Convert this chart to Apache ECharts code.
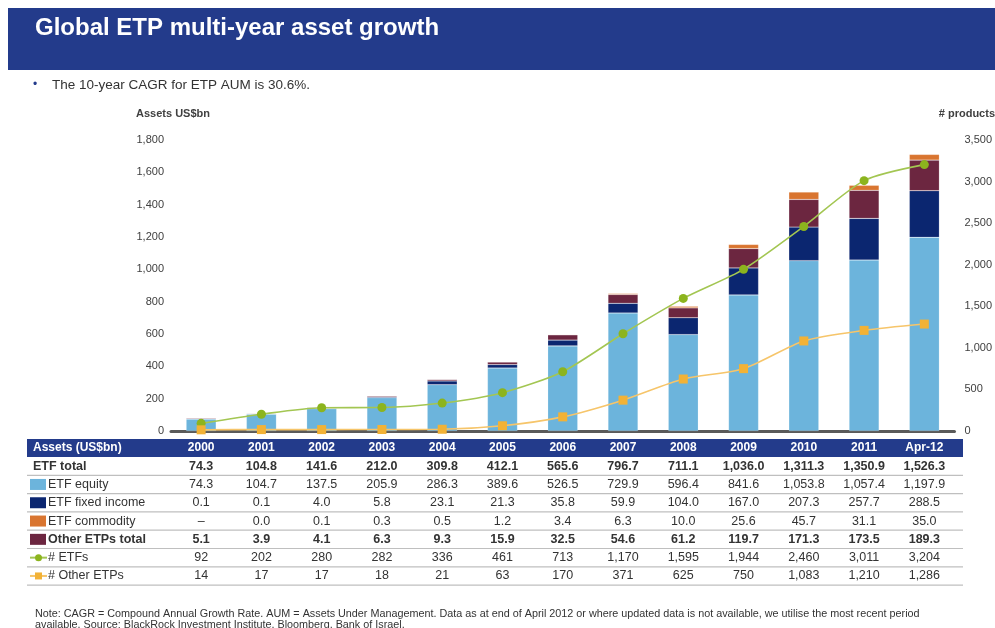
<!DOCTYPE html>
<html>
<head>
<meta charset="utf-8">
<title>Global ETP multi-year asset growth</title>
<script src="https://cdn.jsdelivr.net/npm/echarts@6/dist/echarts.min.js"></script>
<style>
  html, body { margin: 0; padding: 0; background: #fff; }
  #main { width: 995px; height: 628px; }
</style>
</head>
<body>
<div id="main"></div>
<script>
  // data (US$bn, product counts)
  const years = ['2000', '2001', '2002', '2003', '2004', '2005', '2006', '2007', '2008', '2009', '2010', '2011', 'Apr-12']
  const etfTotal = [74.3, 104.8, 141.6, 212.0, 309.8, 412.1, 565.6, 796.7, 711.1, 1036.0, 1311.3, 1350.9, 1526.3]
  const etfEquity = [74.3, 104.7, 137.5, 205.9, 286.3, 389.6, 526.5, 729.9, 596.4, 841.6, 1053.8, 1057.4, 1197.9]
  const etfFixedIncome = [0.1, 0.1, 4.0, 5.8, 23.1, 21.3, 35.8, 59.9, 104.0, 167.0, 207.3, 257.7, 288.5]
  const etfCommodity = [null, 0.0, 0.1, 0.3, 0.5, 1.2, 3.4, 6.3, 10.0, 25.6, 45.7, 31.1, 35.0]
  const otherEtpsTotal = [5.1, 3.9, 4.1, 6.3, 9.3, 15.9, 32.5, 54.6, 61.2, 119.7, 171.3, 173.5, 189.3]
  const numEtfs = [92, 202, 280, 282, 336, 461, 713, 1170, 1595, 1944, 2460, 3011, 3204]
  const numOtherEtps = [14, 17, 17, 18, 21, 63, 170, 371, 625, 750, 1083, 1210, 1286]

  const FONT = '"Liberation Sans", Arial, sans-serif'
  const NAVY = '#233b8b'
  const C_EQUITY = '#6cb4dc'
  const C_FIXED = '#0b2670'
  const C_COMMODITY = '#d97530'
  const C_OTHER = '#6c2640'
  const C_ETFS = '#8cb41e'
  const C_OTHER_ETPS = '#f2b236'

  const fmt = (v, d) => v === null ? '\u2013' : v.toLocaleString('en-US', { minimumFractionDigits: d, maximumFractionDigits: d })

  const chart = echarts.init(document.getElementById('main'), null, { renderer: 'canvas' })

  const barSeries = (name, data, color) => ({
    name: name,
    type: 'bar',
    stack: 'aum',
    barWidth: 30,
    data: data,
    itemStyle: { color: color, borderColor: 'rgba(255,255,255,0.35)', borderWidth: 0.5 }
  })

  const lineSeries = (name, data, color, lineColor, symbol, size) => ({
    name: name,
    type: 'line',
    yAxisIndex: 1,
    data: data,
    smooth: 0.25,
    symbol: symbol,
    symbolSize: size,
    z: 5,
    itemStyle: { color: color },
    lineStyle: { color: lineColor, width: 1.6 }
  })

  const axisLabel = margin => ({
    color: '#404040',
    fontSize: 11,
    fontFamily: FONT,
    margin: margin,
    formatter: v => v.toLocaleString('en-US')
  })

  chart.setOption({
    animation: false,
    grid: { left: 171, right: 40, top: 140, bottom: 197 },
    xAxis: {
      type: 'category',
      data: years,
      axisLine: { lineStyle: { color: '#5a5a5a', width: 3 } },
      axisTick: { show: false },
      axisLabel: { show: false }
    },
    yAxis: [
      {
        type: 'value', min: 0, max: 1800, interval: 200,
        axisLine: { show: false }, axisTick: { show: false }, splitLine: { show: false },
        axisLabel: axisLabel(7)
      },
      {
        type: 'value', min: 0, max: 3500, interval: 500,
        axisLine: { show: false }, axisTick: { show: false }, splitLine: { show: false },
        axisLabel: axisLabel(10)
      }
    ],
    series: [
      barSeries('ETF equity', etfEquity, C_EQUITY),
      barSeries('ETF fixed income', etfFixedIncome, C_FIXED),
      barSeries('Other ETPs total', otherEtpsTotal, C_OTHER),
      barSeries('ETF commodity', etfCommodity, C_COMMODITY),
      lineSeries('# ETFs', numEtfs, C_ETFS, '#a3c652', 'circle', 9),
      lineSeries('# Other ETPs', numOtherEtps, C_OTHER_ETPS, '#f6c56a', 'rect', 9)
    ]
  })

  // table under the chart, columns lined up with the categories
  const rows = [
    { label: 'ETF total', values: etfTotal, d: 1, bold: true },
    { label: 'ETF equity', values: etfEquity, d: 1, icon: 'box', color: C_EQUITY },
    { label: 'ETF fixed income', values: etfFixedIncome, d: 1, icon: 'box', color: C_FIXED },
    { label: 'ETF commodity', values: etfCommodity, d: 1, icon: 'box', color: C_COMMODITY },
    { label: 'Other ETPs total', values: otherEtpsTotal, d: 1, bold: true, icon: 'box', color: C_OTHER },
    { label: '# ETFs', values: numEtfs, d: 0, icon: 'line', color: C_ETFS, line: '#a3c652', sym: 'circle' },
    { label: '# Other ETPs', values: numOtherEtps, d: 0, icon: 'line', color: C_OTHER_ETPS, line: '#f6c56a', sym: 'rect' }
  ]

  const colX = years.map((y, i) => chart.convertToPixel({ xAxisIndex: 0 }, i))
  const tableLeft = 27, tableRight = 963
  const headTop = 439, headH = 18, rowTop = 457, rowH = 18.3

  const txt = (x, y, text, opt) => ({
    type: 'text', x: x, y: y, silent: true,
    style: Object.assign({
      text: text, fill: '#333', textAlign: 'left', textVerticalAlign: 'middle',
      font: '12px ' + FONT
    }, opt || {})
  })

  const g = []
  // title band
  g.push({ type: 'rect', shape: { x: 8, y: 8, width: 987, height: 62 }, style: { fill: NAVY } })
  g.push(txt(35, 28, 'Global ETP multi-year asset growth', { fill: '#fff', font: 'bold 24px ' + FONT }))
  g.push(txt(33, 85, '\u2022', { fill: NAVY, font: '12px ' + FONT }))
  g.push(txt(52, 85, 'The 10-year CAGR for ETP AUM is 30.6%.', { fill: '#333', font: '13.5px ' + FONT }))
  g.push(txt(136, 114, 'Assets US$bn', { fill: '#404040', font: 'bold 11px ' + FONT }))
  g.push(txt(995, 114, '# products', { fill: '#404040', font: 'bold 11px ' + FONT, textAlign: 'right' }))

  // header
  g.push({ type: 'rect', shape: { x: tableLeft, y: headTop, width: tableRight - tableLeft, height: headH }, style: { fill: NAVY } })
  g.push(txt(33, headTop + headH / 2, 'Assets (US$bn)', { fill: '#fff', font: 'bold 12px ' + FONT }))
  years.forEach((y, i) => {
    g.push(txt(colX[i], headTop + headH / 2, y, { fill: '#fff', font: 'bold 12px ' + FONT, textAlign: 'center' }))
  })

  rows.forEach((r, k) => {
    const cy = rowTop + rowH * k + rowH / 2
    const font = (r.bold ? 'bold ' : '') + '12.5px ' + FONT
    let lx = 33
    if (r.icon === 'box') {
      g.push({ type: 'rect', shape: { x: 30, y: cy - 5.5, width: 16, height: 11 }, style: { fill: r.color } })
      lx = 48
    } else if (r.icon === 'line') {
      g.push({ type: 'line', shape: { x1: 30, y1: cy, x2: 47, y2: cy }, style: { stroke: r.line, lineWidth: 2 } })
      if (r.sym === 'circle') {
        g.push({ type: 'circle', shape: { cx: 38.5, cy: cy, r: 3.5 }, style: { fill: r.color } })
      } else {
        g.push({ type: 'rect', shape: { x: 35, y: cy - 3.5, width: 7, height: 7 }, style: { fill: r.color } })
      }
      lx = 48
    }
    g.push(txt(lx, cy, r.label, { font: font }))
    r.values.forEach((v, i) => {
      g.push(txt(colX[i], cy, fmt(v, r.d), { font: font, textAlign: 'center' }))
    })
    g.push({
      type: 'line',
      shape: { x1: tableLeft, y1: rowTop + rowH * (k + 1), x2: tableRight, y2: rowTop + rowH * (k + 1) },
      style: { stroke: '#bfbfbf', lineWidth: 1.2 }
    })
  })

  // footnote
  g.push(txt(35, 614, 'Note: CAGR = Compound Annual Growth Rate. AUM = Assets Under Management. Data as at end of April 2012 or where updated data is not available, we utilise the most recent period', { font: '10.8px ' + FONT }))
  g.push(txt(35, 625, 'available. Source: BlackRock Investment Institute, Bloomberg, Bank of Israel.', { font: '10.8px ' + FONT }))

  chart.setOption({ graphic: g })
</script>
</body>
</html>
